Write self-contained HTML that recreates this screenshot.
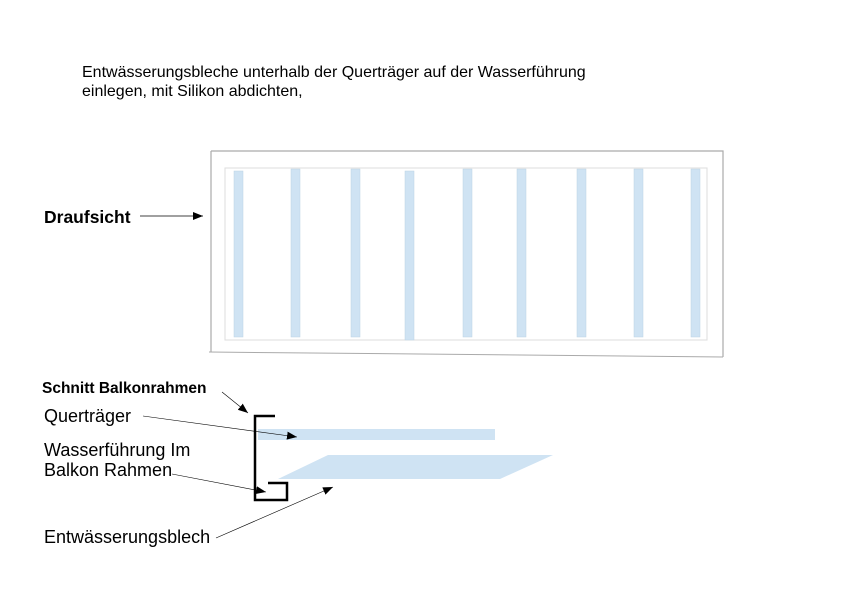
<!DOCTYPE html>
<html><head><meta charset="utf-8"><style>
body{margin:0;background:#fff;}
svg{display:block;font-family:"Liberation Sans",sans-serif;}
</style></head><body>
<svg width="849" height="600" viewBox="0 0 849 600" xmlns="http://www.w3.org/2000/svg">
<defs><marker id="a" markerWidth="10" markerHeight="8" refX="10" refY="4" orient="auto" markerUnits="userSpaceOnUse"><path d="M0,0 L10,4 L0,8 z" fill="#000"/></marker></defs>
<text x="82" y="77" font-size="16">Entwässerungsbleche unterhalb der Querträger auf der Wasserführung</text>
<text x="82" y="96" font-size="16">einlegen, mit Silikon abdichten,</text>
<path d="M211,151 H723 V357 M211,352 V151" fill="none" stroke="#aaa" stroke-width="1.2"/>
<path d="M209,352 L723,357" stroke="#aaa" stroke-width="1"/>
<rect x="225" y="168" width="482" height="172" fill="none" stroke="#ddd" stroke-width="1"/>
<g fill="#cfe3f3" stroke="#bcd3e4" stroke-width="0.5">
<rect x="234" y="171" width="9" height="166"/>
<rect x="291" y="169" width="9" height="168"/>
<rect x="351" y="169" width="9" height="168"/>
<rect x="405" y="171" width="9" height="169"/>
<rect x="463" y="169" width="9" height="168"/>
<rect x="517" y="169" width="9" height="168"/>
<rect x="577" y="169" width="9" height="168"/>
<rect x="634" y="169" width="9" height="168"/>
<rect x="691" y="169" width="9" height="168"/>
</g>
<text x="44" y="223" font-size="17.5" font-weight="bold">Draufsicht</text>
<line x1="140" y1="216" x2="203" y2="216" stroke="#000" stroke-width="0.7" marker-end="url(#a)"/>
<text x="42" y="393" font-size="15.5" font-weight="bold">Schnitt Balkonrahmen</text>
<text x="44" y="422" font-size="18">Querträger</text>
<text x="44" y="456" font-size="18">Wasserführung Im</text>
<text x="44" y="476" font-size="18">Balkon Rahmen</text>
<text x="44" y="543" font-size="18">Entwässerungsblech</text>
<rect x="258" y="429" width="237" height="11" fill="#cfe3f3"/>
<polygon points="278,479 328,455 553,455 500,479" fill="#cfe3f3"/>
<path d="M275,416 H255 V500 H287 V483 H268" fill="none" stroke="#000" stroke-width="2.5"/>
<line x1="222" y1="392" x2="248" y2="413" stroke="#000" stroke-width="0.6" marker-end="url(#a)"/>
<line x1="143" y1="416" x2="297" y2="437" stroke="#000" stroke-width="0.6" marker-end="url(#a)"/>
<line x1="172" y1="474" x2="266" y2="492" stroke="#000" stroke-width="0.6" marker-end="url(#a)"/>
<line x1="216" y1="538" x2="333" y2="487" stroke="#000" stroke-width="0.6" marker-end="url(#a)"/>
</svg>
</body></html>
